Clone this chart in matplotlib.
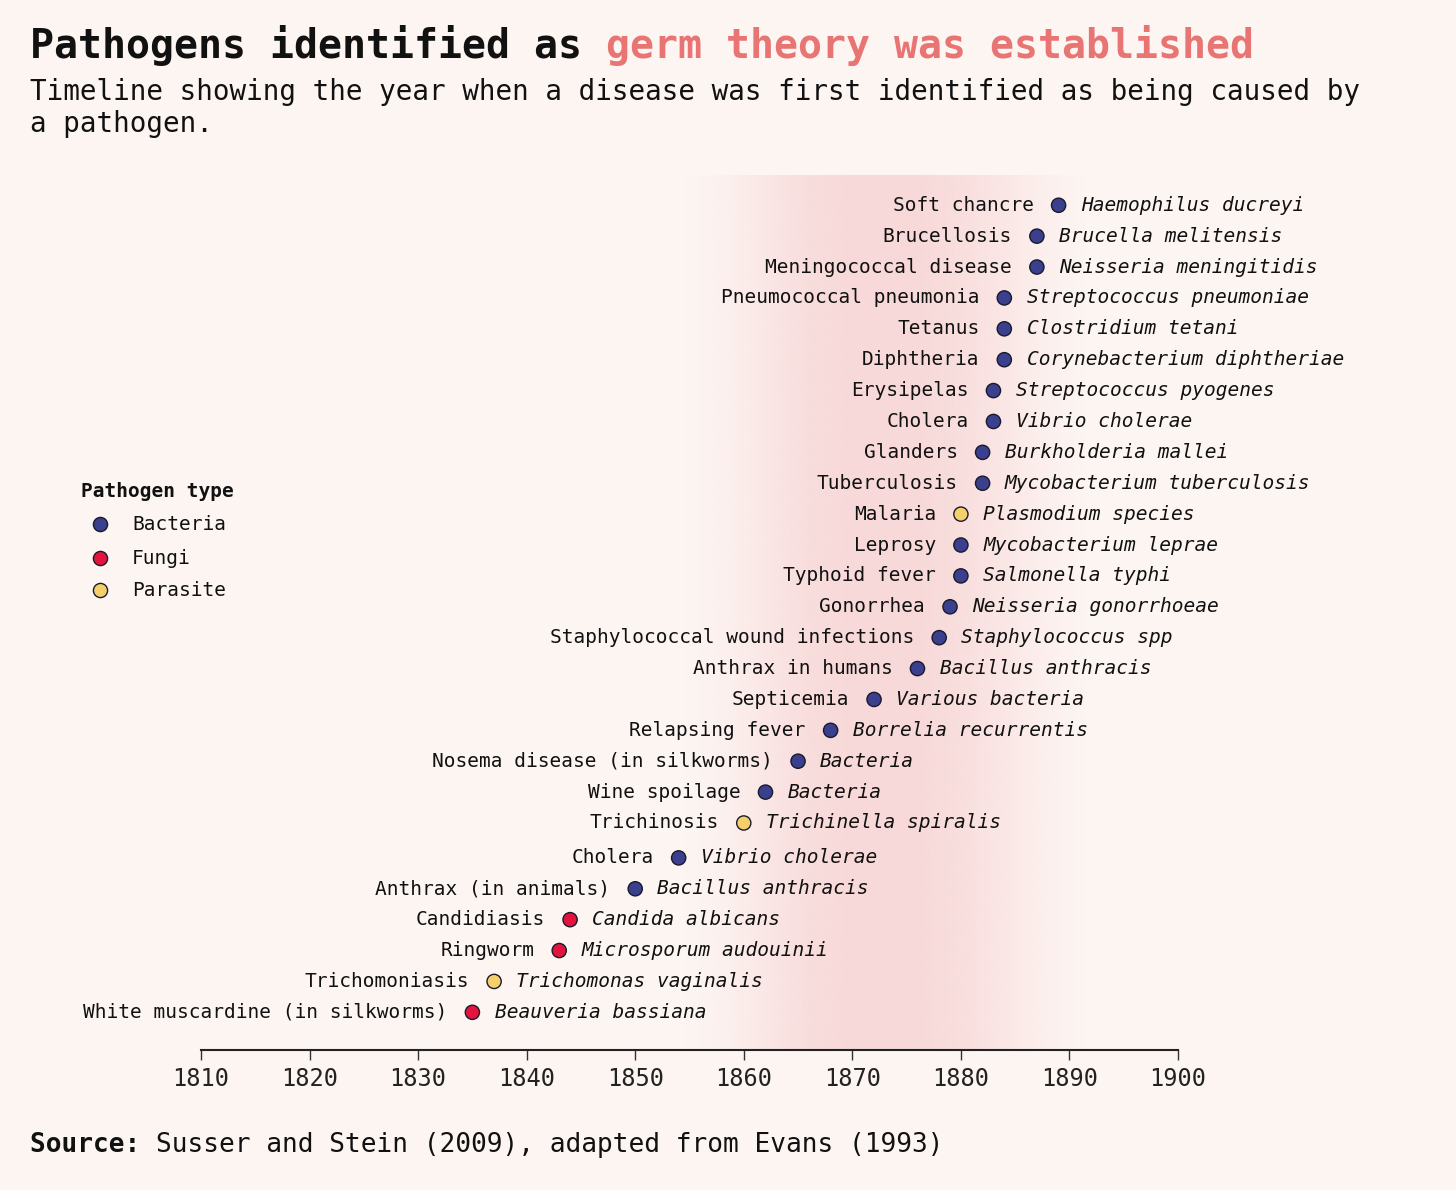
import matplotlib.pyplot as plt
import matplotlib.colors as mcolors
from matplotlib.lines import Line2D
import numpy as np

# data, top row first
diseases = ["Soft chancre", "Brucellosis", "Meningococcal disease", "Pneumococcal pneumonia",
            "Tetanus", "Diphtheria", "Erysipelas", "Cholera", "Glanders", "Tuberculosis",
            "Malaria", "Leprosy", "Typhoid fever", "Gonorrhea", "Staphylococcal wound infections",
            "Anthrax in humans", "Septicemia", "Relapsing fever", "Nosema disease (in silkworms)",
            "Wine spoilage", "Trichinosis", "Cholera", "Anthrax (in animals)", "Candidiasis",
            "Ringworm", "Trichomoniasis", "White muscardine (in silkworms)"]
pathogens = ["Haemophilus ducreyi", "Brucella melitensis", "Neisseria meningitidis",
             "Streptococcus pneumoniae", "Clostridium tetani", "Corynebacterium diphtheriae",
             "Streptococcus pyogenes", "Vibrio cholerae", "Burkholderia mallei",
             "Mycobacterium tuberculosis", "Plasmodium species", "Mycobacterium leprae",
             "Salmonella typhi", "Neisseria gonorrhoeae", "Staphylococcus spp",
             "Bacillus anthracis", "Various bacteria", "Borrelia recurrentis", "Bacteria",
             "Bacteria", "Trichinella spiralis", "Vibrio cholerae", "Bacillus anthracis",
             "Candida albicans", "Microsporum audouinii", "Trichomonas vaginalis",
             "Beauveria bassiana"]
years = [1889, 1887, 1887, 1884, 1884, 1884, 1883, 1883, 1882, 1882, 1880, 1880, 1880,
         1879, 1878, 1876, 1872, 1868, 1865, 1862, 1860, 1854, 1850, 1844, 1843, 1837, 1835]
types = ["Bacteria"] * 10 + ["Parasite"] + ["Bacteria"] * 9 + ["Parasite", "Bacteria",
         "Bacteria", "Fungi", "Fungi", "Parasite", "Fungi"]

type_names = ["Bacteria", "Fungi", "Parasite"]
type_colors = {"Bacteria": "#3a3f8e", "Fungi": "#e2143d", "Parasite": "#f4cf6c"}

BG = "#fdf5f2"
PINK = "#f8d9d9"
MONO = "DejaVu Sans Mono"
plt.rcParams['font.family'] = MONO

fig = plt.figure(figsize=(14.56, 11.9), dpi=100, facecolor=BG)
W, H = 1456, 1190
ax = fig.add_axes([201 / W, 1 - 1050 / H, (1178 - 201) / W, (1050 - 175) / H])
ax.set_facecolor("none")

# row positions (small extra gap before the lower group, as in the original)
rows = np.array([i + (0.13 if i >= 21 else 0) for i in range(len(years))])
ytop, ybot = -0.98, 27.35

# germ theory glow
gx = np.linspace(1853, 1895, 600)
alpha = np.interp(gx, [1855, 1858, 1862, 1866, 1870, 1876, 1880, 1884, 1887, 1891],
                  [0, 0.15, 0.5, 0.85, 1, 1, 0.8, 0.5, 0.25, 0])
alpha = np.convolve(alpha, np.ones(25) / 25, mode="same")
rgba = np.zeros((1, len(gx), 4))
rgba[0, :, :3] = mcolors.to_rgb(PINK)
rgba[0, :, 3] = alpha
ax.imshow(rgba, extent=[gx[0], gx[-1], ybot, ytop], aspect="auto", zorder=0,
          interpolation="bilinear")
ax.set_xlim(1810, 1900)
ax.set_ylim(ybot, ytop)

cols = [type_colors[t] for t in types]
ax.scatter(years, rows, s=105, c=cols, edgecolors="#1a1a2a", linewidths=1.0, zorder=3)

for yr, r, d, p in zip(years, rows, diseases, pathogens):
    ax.annotate(d, (yr, r), xytext=(-18, 0), textcoords="offset points",
                ha="right", va="center", fontsize=14, color="#111")
    ax.annotate(p, (yr, r), xytext=(16, 0), textcoords="offset points",
                ha="left", va="center", fontsize=14, style="italic", color="#111")

# axis
for s in ["left", "right", "top"]:
    ax.spines[s].set_visible(False)
ax.spines["bottom"].set_linewidth(1.5)
ax.spines["bottom"].set_color("#222")
ax.set_yticks([])
ax.set_xticks(range(1810, 1901, 10))
ax.tick_params(axis="x", length=7, width=1, color="#333", labelsize=17,
               labelcolor="#222", pad=5)

# legend drawn by hand
fig.text(81 / W, 1 - 497 / H, "Pathogen type", fontsize=14, fontweight="bold",
         va="baseline", color="#111")
leg_y = [524, 558, 590]
for name, ly in zip(type_names, leg_y):
    fig.add_artist(Line2D([100 / W], [1 - ly / H], marker="o", markersize=10.2,
                          markerfacecolor=type_colors[name], markeredgecolor="#1a1a2a",
                          markeredgewidth=1.0, linestyle="none", transform=fig.transFigure))
    fig.text(132 / W, 1 - ly / H, name, fontsize=14, va="center", color="#111")

# title in two colours
fig.canvas.draw()
r = fig.canvas.get_renderer()
t1 = fig.text(30 / W, 1 - 58 / H, "Pathogens identified as ", fontsize=28.7,
              fontweight="bold", va="baseline", color="#111")
bb = t1.get_window_extent(renderer=r)
fig.text(bb.x1 / W, 1 - 58 / H, "germ theory was established", fontsize=28.7,
         fontweight="bold", va="baseline", color="#e87474")

fig.text(30 / W, 1 - 100 / H,
         "Timeline showing the year when a disease was first identified as being caused by",
         fontsize=19.9, va="baseline", color="#111")
fig.text(30 / W, 1 - 132 / H, "a pathogen.", fontsize=19.9, va="baseline", color="#111")

s1 = fig.text(30 / W, 1 - 1152 / H, "Source: ", fontsize=18.8, fontweight="bold",
              va="baseline", color="#111")
bb = s1.get_window_extent(renderer=r)
fig.text(bb.x1 / W, 1 - 1152 / H, "Susser and Stein (2009), adapted from Evans (1993)",
         fontsize=18.8, va="baseline", color="#111")

fig.savefig("out.png", dpi=100, facecolor=BG)
